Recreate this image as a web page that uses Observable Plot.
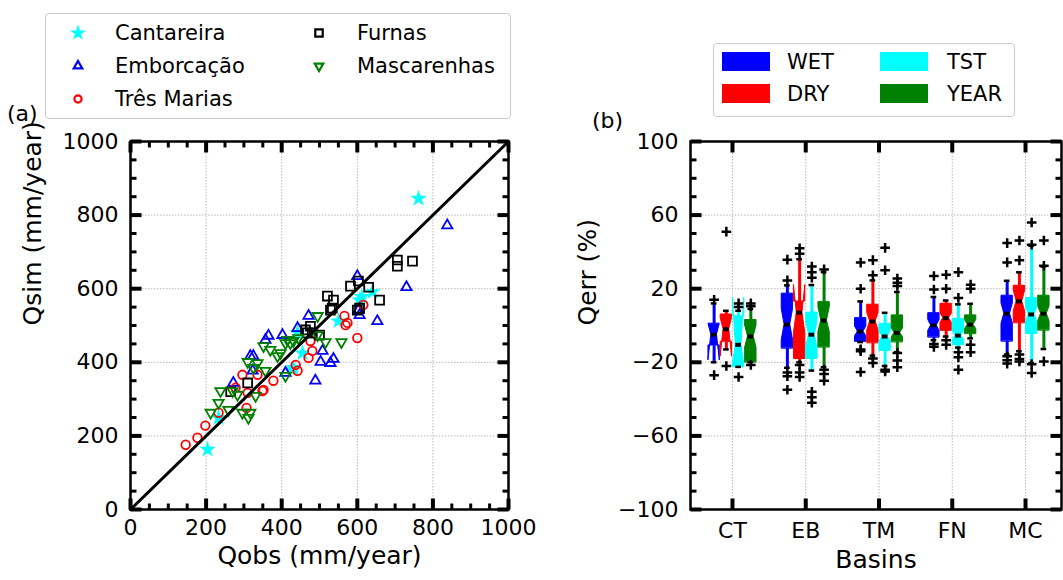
<!DOCTYPE html>
<html><head><meta charset="utf-8">
<script src="https://cdn.jsdelivr.net/npm/d3@7"></script>
<script src="https://cdn.jsdelivr.net/npm/@observablehq/plot@0.6"></script>
<style>
body{margin:0;background:#fff;font-family:"DejaVu Sans",sans-serif;color:#000;}
#wrap{position:relative;width:1063px;height:580px;overflow:hidden;background:#fff;}
.abs{position:absolute;white-space:nowrap;}
.legend{position:absolute;border:1.5px solid #ccc;border-radius:4px;background:#fff;box-sizing:border-box;}
.lt{position:absolute;font-size:21px;line-height:21px;white-space:nowrap;transform:translateY(-50%);}
</style></head><body><div id="wrap"></div>
<script>
// ---------- Panel (a) data: [Qobs, Qsim] mm/year ----------
const seriesNames = ["Cantareira","Emborcação","Três Marias","Furnas","Mascarenhas"];
const cantareira = [[762,845],[640,591],[606,569],[612,578],[550,512],[455,425],[431,385],[442,480],[429,379],[233,249],[204,163]];
const emborcacao = [[838,772],[730,604],[600,634],[606,528],[603,542],[653,512],[471,526],[508,431],[503,401],[529,398],[537,409],[489,350],[410,371],[442,493],[402,474],[365,472],[357,461],[317,417],[323,377],[272,344],[325,417]];
const tresMarias = [[616,556],[566,526],[574,507],[569,501],[600,466],[471,412],[481,431],[442,377],[437,393],[476,458],[296,366],[336,366],[378,350],[352,325],[278,331],[310,317],[349,322],[233,263],[307,276],[198,228],[177,195],[146,176]];
const furnas = [[706,678],[706,661],[746,675],[582,607],[603,621],[630,604],[659,569],[521,580],[537,569],[534,547],[606,547],[600,542],[529,542],[500,474],[476,498],[481,480],[463,488],[468,480],[310,344],[265,320]];
const mascarenhas = [[495,526],[558,455],[516,455],[495,474],[410,363],[410,452],[423,452],[389,417],[397,425],[370,434],[352,444],[415,461],[431,458],[444,466],[310,401],[336,398],[325,385],[357,377],[270,322],[238,322],[283,312],[331,309],[233,290],[212,263],[259,271],[296,263],[312,249],[317,263]];
const axisATicks = [0,200,400,600,800,1000];
const axisAMinor = [50,100,150,250,300,350,450,500,550,650,700,750,850,900,950];

// ---------- Panel (b) data: Qerr (%) ----------
const basins = ["CT","EB","TM","FN","MC"];
const periods = ["WET","DRY","TST","YEAR"];
// each box: [whiskerLow, q1, notchLow, median, notchHigh, q3, whiskerHigh]
const wetStats  = [[-20,-11,-19,-5,1,1,12],[-23,-12.4,-8,0.5,9,17.3,21.8],[-9,-8.7,-6,-3.3,-0.5,4,13.1],[-8,-6.4,-3,0,3,6.7,15.5],[-15.8,-8.6,1,6.4,12,16.2,24.3]];
const dryStats  = [[-13,-9,-17,-2,4,6,8],[-20,-18,-4,7,22,13,36],[-16.4,-9.5,-2.7,2.2,6.9,11.3,24.5],[-6,-2.7,1.5,4,6.5,11.8,13.6],[-14,1.4,7.7,13.1,19,21.6,28.9]];
const tstStats  = [[-22.5,-22.5,-21,-10.5,15,5,8],[-24.5,-18,-12,-5,2,7,22],[-22,-13.6,-9,-6,-3,0.9,6.9],[-12,-10.4,-8,-5.5,-3,3.6,11.5],[-20.4,-4.4,2,6,10,15,43.3]];
const yearStats = [[-20,-20,-12,-6,0,3,9],[-22.7,-11.8,-3.6,2.7,10,12.7,29],[-14.5,-9,-6.5,-4,-1.5,5.5,18.2],[-7,-4.5,-2,0.4,3,5.5,11.8],[-12.8,-2.6,2.3,6.4,10.4,16.2,32]];
const wetOut  = [[-27,14],[-25.5,-27.6,-34.9,24.5,35.8],[-13,-14,-25.3,20,34.2],[-10,-11.6,19.6,26.9],[-16.7,-18.9,-20.7,34.3,44.8]];
const dryOut  = [[-22,51],[-21.5,-25.5,-28,39,42],[-18,-20.4,27.3,35.5],[-8,-10.5,20,27.6],[-15.8,-18.2,-19.5,35.4,46.2]];
const tstOut  = [[-28,10,12],[-36,-39,-42,26,29,32],[-24,-25,30,42.2],[-14.5,-17.3,-24,15,29],[-21,-25.8,43.9,56]];
const yearOut = [[-21.5,10.5,12],[-24,-26.4,-30,30.5],[-15,-19,-22.7,21.5,23.3,25.5],[-10.5,-14.5,20,22.2],[-19.5,32.5,46.2]];
const axisBTicks = [-100,-60,-20,20,60,100];
const axisBMinor = [-90,-80,-70,-50,-40,-30,-10,0,10,30,40,50,70,80,90];

// ---------- styling ----------
const FONT = "DejaVu Sans, sans-serif";
const H = 580, MT = 141, MB = 71;
const wrap = document.getElementById("wrap");

// inward tick glyphs (custom dot symbols anchored on the frame edges)
function tickGlyph(side, len, w) {
  return {draw(ctx) {
    if (side === "bottom") ctx.rect(-w / 2, -len, w, len);
    else if (side === "top") ctx.rect(-w / 2, 0, w, len);
    else if (side === "left") ctx.rect(0, -w / 2, len, w);
    else ctx.rect(-len, -w / 2, len, w);
  }};
}
function frameTicks(xDom, yDom, xMaj, xMin, yMaj, yMin) {
  const m = [];
  const addX = (vals, len, w) => {
    if (!vals.length) return;
    m.push(Plot.dot(vals, {x: d => d, y: () => yDom[0], symbol: tickGlyph("bottom", len, w), fill: "black", stroke: "none"}));
    m.push(Plot.dot(vals, {x: d => d, y: () => yDom[1], symbol: tickGlyph("top", len, w), fill: "black", stroke: "none"}));
  };
  const addY = (vals, len, w) => {
    if (!vals.length) return;
    m.push(Plot.dot(vals, {y: d => d, x: () => xDom[0], symbol: tickGlyph("left", len, w), fill: "black", stroke: "none"}));
    m.push(Plot.dot(vals, {y: d => d, x: () => xDom[1], symbol: tickGlyph("right", len, w), fill: "black", stroke: "none"}));
  };
  addX(xMaj, 11, 4); addX(xMin, 6, 3);
  addY(yMaj, 11, 4); addY(yMin, 6, 3);
  return m;
}

// ---------- Panel (a) ----------
const aW = 560, aML = 130, aMR = 52;
const aDom = [0, 1000];
const seriesStyle = [
  {data: cantareira, symbol: "star", r: 3.5, fill: "cyan", stroke: "cyan", rotate: 0},
  {data: emborcacao, symbol: "triangle", r: 3.8, fill: "none", stroke: "blue", rotate: 0},
  {data: tresMarias, symbol: "circle", r: 4.3, fill: "none", stroke: "red", rotate: 0},
  {data: furnas, symbol: "square", r: 5.0, fill: "none", stroke: "black", rotate: 0},
  {data: mascarenhas, symbol: "triangle", r: 3.8, fill: "none", stroke: "green", rotate: 180}
];
const diag = [aDom[0], aDom[1]].map(v => ({x: v, y: v}));

const plotA = Plot.plot({
  width: aW, height: H, marginLeft: aML, marginRight: aMR, marginTop: MT, marginBottom: MB,
  style: {fontFamily: FONT, fontSize: "22px", color: "black", background: "transparent", overflow: "visible"},
  x: {domain: aDom},
  y: {domain: aDom},
  marks: [
    Plot.ruleX(axisATicks, {x: d => d, stroke: "#bbb", strokeWidth: 1, strokeDasharray: "1.5,1.5"}),
    Plot.ruleY(axisATicks, {y: d => d, stroke: "#bbb", strokeWidth: 1, strokeDasharray: "1.5,1.5"}),
    ...seriesStyle.map(s => Plot.dot(s.data, {x: d => d[0], y: d => d[1], symbol: s.symbol, r: s.r,
        fill: s.fill, stroke: s.stroke, strokeWidth: 1.8, rotate: s.rotate})),
    Plot.line(diag, {x: "x", y: "y", stroke: "black", strokeWidth: 3}),
    Plot.frame({stroke: "black", strokeWidth: 2.5}),
    Plot.axisX(axisATicks, {tickSize: 0, tickPadding: 10, label: null, fontSize: 22, tickFormat: d => String(d)}),
    Plot.axisY(axisATicks, {tickSize: 0, tickPadding: 12, label: null, fontSize: 22, tickFormat: d => String(d)}),
    Plot.text(["Qobs (mm/year)"], {text: d => d, frameAnchor: "bottom", dy: 54, fontSize: 25}),
    Plot.text(["Qsim (mm/year)"], {text: d => d, frameAnchor: "left", dx: -98, rotate: -90, fontSize: 25}),
    ...frameTicks(aDom, aDom, axisATicks, axisAMinor, axisATicks, axisAMinor)
  ]
});
plotA.style.position = "absolute"; plotA.style.left = "0px"; plotA.style.top = "0px";
wrap.appendChild(plotA);

// ---------- Panel (b) ----------
const bLeft = 560, bW = 503, bML = 130, bMR = 2;
const bxDom = [0.427, 5.491], byDom = [-100, 100];
const periodColors = ["blue", "red", "cyan", "green"];
const statsBy = [wetStats, dryStats, tstStats, yearStats];
const outBy = [wetOut, dryOut, tstOut, yearOut];
const step = 0.167, boxW = 0.155;
const boxes = [];
periods.forEach((p, j) => statsBy[j].forEach((s, i) => boxes.push({
  k: boxes.length, period: p, basin: basins[i], pos: i + 1 + (j - 1.5) * step,
  wlo: s[0], q1: s[1], nlo: s[2], med: s[3], nhi: s[4], q3: s[5], whi: s[6], out: outBy[j][i]
})));
const poly = boxes.flatMap(b => [[b.q1, 1], [b.nlo, 1], [b.med, 0.5], [b.nhi, 1], [b.q3, 1]]
  .map(([y, f]) => ({k: b.k, period: b.period, y, x1: b.pos - f * boxW / 2, x2: b.pos + f * boxW / 2})));
const whisk = boxes.flatMap(b => [{b, y1: b.wlo, y2: b.q1}, {b, y1: b.q3, y2: b.whi}]);
const caps = boxes.flatMap(b => [{b, y: b.wlo}, {b, y: b.whi}]);
const fliers = boxes.flatMap(b => b.out.map(v => ({pos: b.pos, v})));
const basinPos = basins.map((d, i) => i + 1);

const plotB = Plot.plot({
  width: bW, height: H, marginLeft: bML, marginRight: bMR, marginTop: MT, marginBottom: MB,
  style: {fontFamily: FONT, fontSize: "22px", color: "black", background: "transparent", overflow: "visible"},
  x: {type: "linear", domain: bxDom},
  y: {domain: byDom},
  color: {domain: periods, range: periodColors},
  marks: [
    Plot.ruleX(basinPos, {x: d => d, stroke: "#bbb", strokeWidth: 1, strokeDasharray: "1.5,1.5"}),
    Plot.ruleY(axisBTicks, {y: d => d, stroke: "#bbb", strokeWidth: 1, strokeDasharray: "1.5,1.5"}),
    Plot.areaX(poly, {y: "y", x1: "x1", x2: "x2", z: "k", fill: "period", stroke: "period", strokeWidth: 1}),
    Plot.ruleX(whisk, {x: d => d.b.pos, y1: "y1", y2: "y2", stroke: d => d.b.period, strokeWidth: 3}),
    Plot.ruleY(caps, {y: "y", x1: d => d.b.pos - boxW / 4, x2: d => d.b.pos + boxW / 4, stroke: "black", strokeWidth: 2.5}),
    Plot.ruleY(boxes, {y: "med", x1: d => d.pos - boxW / 4, x2: d => d.pos + boxW / 4, stroke: "black", strokeWidth: 4}),
    Plot.dot(fliers, {x: "pos", y: "v", symbol: "plus", r: 3.2, stroke: "black", strokeWidth: 2.5}),
    Plot.frame({stroke: "black", strokeWidth: 2.5}),
    Plot.axisX(basinPos, {tickSize: 0, tickPadding: 13, label: null, fontSize: 22, tickFormat: d => basins[d - 1]}),
    Plot.axisY(axisBTicks, {tickSize: 0, tickPadding: 12, label: null, fontSize: 22, tickFormat: d => d < 0 ? "\u2212" + Math.abs(d) : String(d)}),
    Plot.text(["Basins"], {text: d => d, frameAnchor: "bottom", dy: 58, fontSize: 25}),
    Plot.text(["Qerr (%)"], {text: d => d, frameAnchor: "left", dx: -103, rotate: -90, fontSize: 25}),
    ...frameTicks(bxDom, byDom, basinPos, [], axisBTicks, axisBMinor)
  ]
});
plotB.style.position = "absolute"; plotB.style.left = bLeft + "px"; plotB.style.top = "0px";
wrap.appendChild(plotB);

// ---------- Legends & panel labels ----------
function addText(txt, x, y, size) {
  const d = document.createElement("div");
  d.className = "abs"; d.textContent = txt;
  d.style.left = x + "px"; d.style.top = y + "px"; d.style.fontSize = size + "px"; d.style.lineHeight = size + "px";
  d.style.transform = "translateY(-50%)";
  wrap.appendChild(d);
}
addText("(a)", 7, 114, 22);
addText("(b)", 592, 121, 22);

// legend (a)
const legA = document.createElement("div");
legA.className = "legend";
Object.assign(legA.style, {left: "45px", top: "13px", width: "466px", height: "106px"});
wrap.appendChild(legA);
const symMap = {star: d3.symbolStar, triangle: d3.symbolTriangle, circle: d3.symbolCircle, square: d3.symbolSquare};
const legPos = [[0, 0], [0, 1], [0, 2], [1, 0], [1, 1]];
seriesNames.forEach((name, i) => {
  const s = seriesStyle[i];
  const [col, row] = legPos[i];
  const cx = [32, 273][col], cy = [19, 52, 85][row];
  const svg = d3.create("svg").attr("width", 20).attr("height", 20)
    .style("position", "absolute").style("left", (cx - 10) + "px").style("top", (cy - 10) + "px").style("overflow", "visible");
  svg.append("path").attr("d", d3.symbol(symMap[s.symbol], Math.PI * s.r * s.r * 0.7)())
    .attr("transform", `translate(10,10) rotate(${s.rotate})`)
    .attr("fill", s.fill).attr("stroke", s.stroke).attr("stroke-width", 2.2);
  legA.appendChild(svg.node());
  const t = document.createElement("div");
  t.className = "lt"; t.textContent = name;
  t.style.left = [69, 311][col] + "px"; t.style.top = cy + "px";
  legA.appendChild(t);
});

// legend (b)
const legB = document.createElement("div");
legB.className = "legend";
Object.assign(legB.style, {left: "713px", top: "43px", width: "302px", height: "74px"});
wrap.appendChild(legB);
periods.forEach((p, i) => {
  const col = i < 2 ? 0 : 1, row = i % 2;
  const patch = document.createElement("div");
  Object.assign(patch.style, {position: "absolute", left: [8, 166][col] + "px", top: [8, 40][row] + "px",
    width: "48px", height: "19px", background: periodColors[i]});
  legB.appendChild(patch);
  const t = document.createElement("div");
  t.className = "lt"; t.textContent = p;
  t.style.left = [73, 233][col] + "px"; t.style.top = [18, 50][row] + "px";
  legB.appendChild(t);
});
</script></body></html>
